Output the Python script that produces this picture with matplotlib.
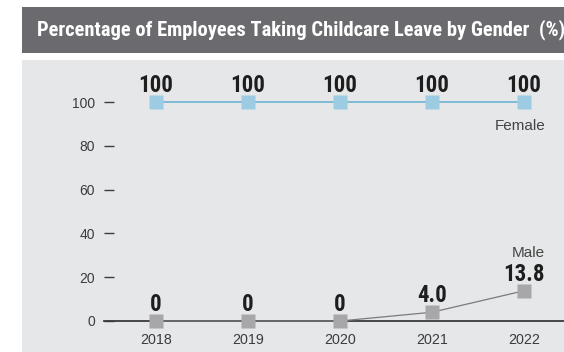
import matplotlib
matplotlib.use("Agg")
import matplotlib.pyplot as plt
from matplotlib import font_manager
from matplotlib.patches import Rectangle

# ---- data ----
years = [2018, 2019, 2020, 2021, 2022]
female = [100, 100, 100, 100, 100]
male = [0, 0, 0, 4.0, 13.8]
female_labels = ["100", "100", "100", "100", "100"]
male_labels = ["0", "0", "0", "4.0", "13.8"]
y_ticks = [0, 20, 40, 60, 80, 100]
title = "Percentage of Employees Taking Childcare Leave by Gender  (%)"

# ---- fonts: narrow sans for headline numbers, plain sans for small text ----
available = {f.name for f in font_manager.fontManager.ttflist}
narrow = "DejaVu Sans"
for cand in ["Roboto Condensed", "Liberation Sans Narrow", "DejaVu Sans Condensed"]:
    if cand in available:
        narrow = cand
        break
plain = "Liberation Sans" if "Liberation Sans" in available else "DejaVu Sans"
plt.rcParams["font.family"] = [plain, "DejaVu Sans"]

W, H = 564, 352
fig = plt.figure(figsize=(W / 100, H / 100), dpi=100)
fig.patch.set_facecolor("white")

def px(x, y):
    """pixel (from top-left) -> figure fraction"""
    return x / W, 1 - y / H

# title band
fig.patches.append(Rectangle((22 / W, 1 - 53 / H), (W - 22) / W, 46 / H,
                             transform=fig.transFigure, facecolor="#6b6b6f",
                             edgecolor="none", zorder=-2))
fig.text(*px(37, 30), title, color="white", fontsize=14.8, fontweight="bold",
         family=[narrow, "DejaVu Sans"], va="center", ha="left")

# chart panel
fig.patches.append(Rectangle((22 / W, 0), (W - 22) / W, 1 - 60 / H,
                             transform=fig.transFigure, facecolor="#e6e7e9",
                             edgecolor="none", zorder=-2))

# plotting area: y=0 at 321px, y=100 at 102px; 2018 at 156px, 92px per year
left_px, right_px = 104, 564
x0 = 2018 - (156 - left_px) / 92
x1 = 2022 + (right_px - 156 - 4 * 92) / 92
ax = fig.add_axes([left_px / W, 1 - 321 / H, (right_px - left_px) / W, 219 / H])
ax.set_zorder(2)
ax.set_facecolor("none")
ax.set_xlim(x0, x1)
ax.set_ylim(0, 100)
for s in ["top", "right", "left"]:
    ax.spines[s].set_visible(False)
ax.spines["bottom"].set_color("#3a3a3a")
ax.spines["bottom"].set_linewidth(1.3)
ax.spines["bottom"].set_zorder(1)

ax.set_xticks(years)
ax.set_xticklabels([str(y) for y in years])
ax.set_yticks(y_ticks)
ax.set_yticklabels([str(v) for v in y_ticks])
ax.tick_params(axis="x", length=0, pad=8.5, labelsize=10.3, labelcolor="#3c3c3c")
ax.tick_params(axis="y", length=7, width=1.0, direction="in", color="#3a3a3a",
               pad=6.5, labelsize=10, labelcolor="#3c3c3c")

# series
ax.plot(years, female, color="#7fbad6", lw=1.4, zorder=3, clip_on=False)
ax.plot(years, female, ls="none", marker="s", ms=9.5, mfc="#9dcbe2", mec="none",
        zorder=4, clip_on=False)
ax.plot(years, male, color="#7a7a7a", lw=0.9, zorder=3, clip_on=False)
ax.plot(years, male, ls="none", marker="s", ms=9.5, mfc="#a7a7a9", mec="none",
        zorder=4, clip_on=False)

# value labels
for x, v, t in zip(years, female, female_labels):
    ax.annotate(t, (x, v), xytext=(0, 12), textcoords="offset points",
                ha="center", va="center", fontsize=16.5, fontweight="bold",
                family=[narrow, "DejaVu Sans"], color="#1e1e1e",
                annotation_clip=False)
for x, v, t in zip(years, male, male_labels):
    ax.annotate(t, (x, v), xytext=(0, 12), textcoords="offset points",
                ha="center", va="center", fontsize=16.5, fontweight="bold",
                family=[narrow, "DejaVu Sans"], color="#1e1e1e",
                annotation_clip=False)

# series names
ax.annotate("Female", (years[-1], female[-1]), xytext=(-3, -17.5),
            textcoords="offset points", ha="center", va="center",
            fontsize=11, color="#444444", annotation_clip=False)
ax.annotate("Male", (years[-1], male[-1]), xytext=(3, 27),
            textcoords="offset points", ha="center", va="center",
            fontsize=11, color="#444444", annotation_clip=False)

fig.savefig("out.png", dpi=100, facecolor="white")
